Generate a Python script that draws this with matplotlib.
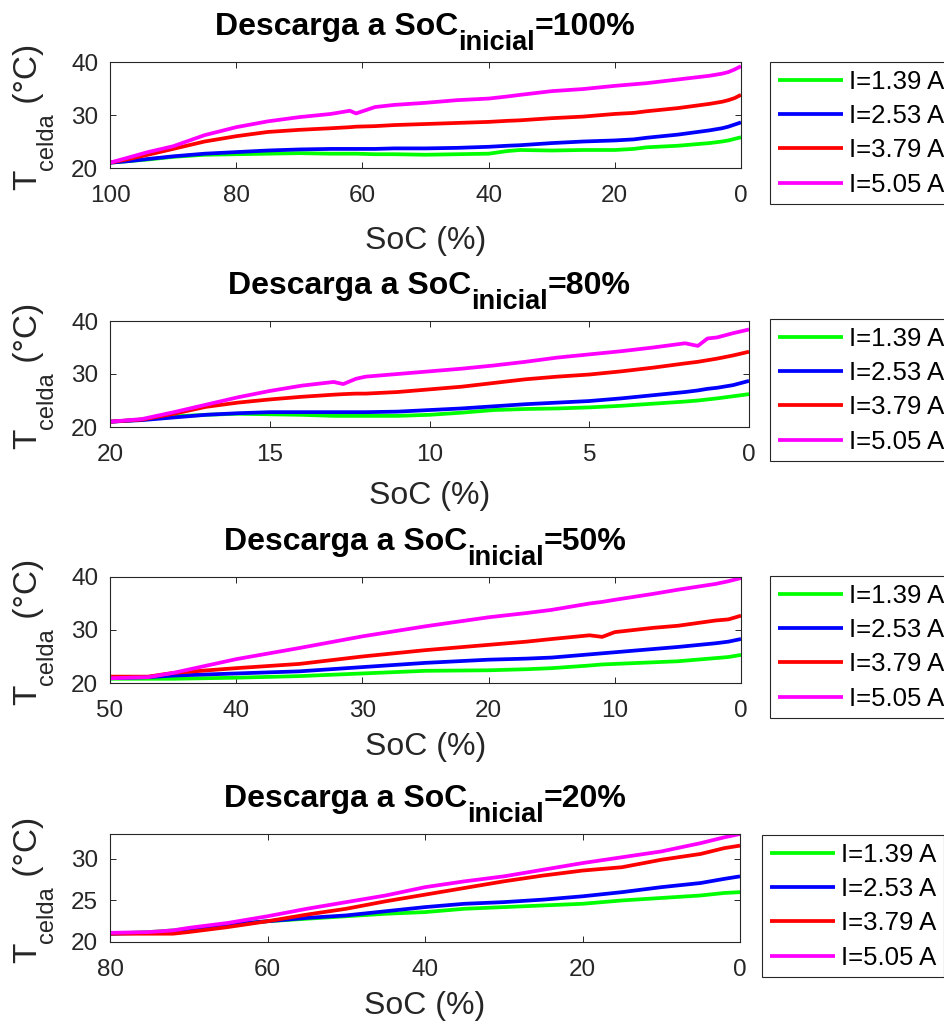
import matplotlib
matplotlib.use('Agg')
import matplotlib.pyplot as plt

plt.rcParams['font.family'] = ['Liberation Sans', 'DejaVu Sans']

# ---------------------------------------------------------------- data
current_labels = ['I=1.39 A', 'I=2.53 A', 'I=3.79 A', 'I=5.05 A']
line_colors = ['#00ff00', '#0000ff', '#ff0000', '#ff00ff']

# Discharge from SoC 100 %
soc_100 = [100, 97, 94, 90, 85, 80, 75, 70, 65, 62, 61, 58, 55, 50, 45, 40, 37, 35,
           30, 25, 20, 17, 15, 10, 5, 3, 2, 1, 0]
t100_i139 = [21.0, 21.3, 21.6, 22.1, 22.5, 22.6, 22.7, 22.8, 22.7, 22.7, 22.7, 22.6, 22.6,
             22.5, 22.6, 22.7, 23.2, 23.4, 23.3, 23.4, 23.4, 23.6, 23.9, 24.2, 24.7, 25.0,
             25.2, 25.5, 25.8]
t100_i253 = [21.0, 21.3, 21.7, 22.2, 22.7, 23.0, 23.3, 23.5, 23.6, 23.6, 23.6, 23.6, 23.7,
             23.7, 23.8, 24.0, 24.2, 24.3, 24.7, 25.0, 25.2, 25.4, 25.7, 26.3, 27.1, 27.5,
             27.8, 28.2, 28.6]
t100_i379 = [21.0, 21.7, 22.5, 23.6, 25.0, 26.0, 26.8, 27.2, 27.5, 27.7, 27.8, 27.9, 28.1,
             28.3, 28.5, 28.7, 28.9, 29.0, 29.4, 29.7, 30.2, 30.4, 30.7, 31.3, 32.1, 32.5,
             32.8, 33.2, 33.8]
t100_i505 = [21.0, 22.0, 23.0, 24.1, 26.2, 27.7, 28.8, 29.6, 30.2, 30.8, 30.3, 31.5, 31.9,
             32.3, 32.8, 33.1, 33.5, 33.8, 34.5, 34.9, 35.5, 35.8, 36.0, 36.7, 37.4, 37.8,
             38.1, 38.6, 39.2]

# Discharge from SoC 80 %
soc_80 = [20, 19, 18, 17, 16, 15, 14, 13, 12.7, 12.3, 12, 11, 10, 9, 8, 7, 6, 5, 4, 3, 2,
          1.6, 1.3, 1, 0.5, 0]
t80_i139 = [21.0, 21.4, 22.0, 22.3, 22.5, 22.4, 22.3, 22.1, 22.1, 22.1, 22.1, 22.1, 22.3,
            22.7, 23.2, 23.4, 23.5, 23.7, 24.0, 24.4, 24.8, 25.0, 25.2, 25.4, 25.8, 26.2]
t80_i253 = [21.0, 21.3, 21.8, 22.3, 22.6, 22.8, 22.8, 22.8, 22.8, 22.8, 22.8, 22.9, 23.2,
            23.5, 23.9, 24.3, 24.6, 24.9, 25.4, 26.0, 26.6, 26.9, 27.2, 27.4, 27.9, 28.7]
t80_i379 = [21.0, 21.4, 22.5, 23.8, 24.6, 25.2, 25.7, 26.1, 26.2, 26.3, 26.3, 26.6, 27.1,
            27.6, 28.3, 29.0, 29.5, 29.9, 30.5, 31.2, 32.0, 32.3, 32.6, 32.9, 33.5, 34.2]
t80_i505 = [21.0, 21.5, 22.8, 24.2, 25.6, 26.8, 27.8, 28.5, 28.1, 29.1, 29.5, 30.0, 30.5,
            31.0, 31.6, 32.3, 33.1, 33.7, 34.3, 35.0, 35.8, 35.3, 36.7, 36.9, 37.7, 38.4]

# Discharge from SoC 50 %
soc_50 = [50, 47, 45, 40, 35, 30, 25, 20, 17, 15, 12, 11, 10, 7, 5, 2, 1, 0]
t50_i139 = [20.8, 20.8, 20.8, 21.0, 21.3, 21.8, 22.3, 22.4, 22.6, 22.8, 23.3, 23.5, 23.6,
            23.9, 24.1, 24.7, 24.9, 25.3]
t50_i253 = [20.9, 21.1, 21.4, 21.8, 22.2, 23.0, 23.8, 24.4, 24.6, 24.8, 25.4, 25.6, 25.8,
            26.4, 26.8, 27.5, 27.8, 28.3]
t50_i379 = [21.2, 21.2, 21.9, 22.8, 23.6, 25.0, 26.2, 27.2, 27.8, 28.3, 29.0, 28.7, 29.6,
            30.4, 30.8, 31.8, 32.0, 32.7]
t50_i505 = [20.9, 21.1, 21.9, 24.5, 26.6, 28.8, 30.7, 32.4, 33.2, 33.8, 35.0, 35.3, 35.7,
            36.8, 37.6, 38.7, 39.2, 39.8]

# Discharge from SoC 20 %
soc_20 = [80, 75, 72, 70, 65, 60, 55, 50, 45, 40, 35, 30, 25, 20, 15, 10, 5, 2, 0]
t20_i139 = [21.0, 21.2, 21.4, 21.6, 22.1, 22.5, 22.8, 23.1, 23.4, 23.6, 24.0, 24.2, 24.4,
            24.6, 25.0, 25.3, 25.6, 25.9, 26.0]
t20_i253 = [21.0, 21.1, 21.3, 21.6, 22.1, 22.5, 22.9, 23.2, 23.7, 24.2, 24.6, 24.8, 25.1,
            25.5, 26.0, 26.6, 27.1, 27.6, 27.9]
t20_i379 = [21.0, 21.0, 21.0, 21.2, 21.8, 22.5, 23.3, 24.0, 24.9, 25.7, 26.5, 27.3, 28.0,
            28.6, 29.0, 29.9, 30.6, 31.3, 31.6]
t20_i505 = [21.1, 21.2, 21.4, 21.7, 22.3, 23.1, 24.0, 24.8, 25.6, 26.6, 27.3, 27.9, 28.7,
            29.5, 30.2, 30.9, 31.9, 32.6, 33.0]

initial_soc = ['100%', '80%', '50%', '20%']
xticks_list = [[100, 80, 60, 40, 20, 0], [20, 15, 10, 5, 0],
               [50, 40, 30, 20, 10, 0], [80, 60, 40, 20, 0]]
yticks_list = [[20, 30, 40], [20, 30, 40], [20, 30, 40], [20, 25, 30]]
ylims = [(20, 40), (20, 40), (20, 40), (20, 33)]

panels = [
    (soc_100, [t100_i139, t100_i253, t100_i379, t100_i505]),
    (soc_80, [t80_i139, t80_i253, t80_i379, t80_i505]),
    (soc_50, [t50_i139, t50_i253, t50_i379, t50_i505]),
    (soc_20, [t20_i139, t20_i253, t20_i379, t20_i505]),
]

# ---------------------------------------------------------------- layout (pixels)
W, H = 944, 1030
axes_px = [(110, 741, 62, 168), (110, 749, 321, 427),
           (110, 741, 577, 683), (110, 740, 834, 942)]
legend_px = [(770, 62), (770, 319), (770, 576), (762, 835)]
xlabel_gap = [58, 54, 49, 49]

frame_col = '#262626'

fig = plt.figure(figsize=(W / 100, H / 100), dpi=100)
renderer = fig.canvas.get_renderer()


def px(x, y):
    return x / W, 1 - y / H


def add_title(left, right, top, value):
    """Bold title with a large subscript, centred over the axes."""
    base_y = top - 27
    parts = [('Descarga a SoC', 23, 0), ('inicial', 19.5, -15), ('=' + value, 23, 0)]
    texts = []
    for s, size, dy in parts:
        t = fig.text(0, 0, s, fontsize=size, fontweight='bold', color='black',
                     ha='left', va='baseline')
        texts.append((t, dy))
    widths = [t.get_window_extent(renderer).width for t, _ in texts]
    x = (left + right) / 2 - sum(widths) / 2
    for (t, dy), w in zip(texts, widths):
        t.set_position(px(x, base_y - dy))
        x += w


def add_ylabel(top, bottom):
    """Vertical 'T_celda (°C)' label with a large subscript."""
    base_x = 36.5
    parts = [('T', 24, 0), ('celda', 17, 16), (' (°C)', 24, 0)]
    texts = []
    for s, size, dx in parts:
        t = fig.text(0, 0, s, fontsize=size, color=frame_col, rotation=90,
                     rotation_mode='anchor', ha='left', va='baseline')
        texts.append((t, dx))
    lengths = [t.get_window_extent(renderer).height for t, _ in texts]
    y = (top + bottom) / 2 + 2 + sum(lengths) / 2
    for (t, dx), h in zip(texts, lengths):
        t.set_position(px(base_x + dx, y))
        y -= h


for k, (soc, series) in enumerate(panels):
    l, r, t, b = axes_px[k]
    ax = fig.add_axes([l / W, 1 - b / H, (r - l) / W, (b - t) / H])
    for temps, col, lab in zip(series, line_colors, current_labels):
        ax.plot(soc, temps, color=col, lw=2.7, label=lab, solid_capstyle='butt')
    ax.set_xlim(max(xticks_list[k]), 0)
    ax.set_ylim(*ylims[k])
    ax.set_xticks(xticks_list[k])
    ax.set_yticks(yticks_list[k])
    for sp in ax.spines.values():
        sp.set_color(frame_col)
        sp.set_linewidth(0.8)
    ax.tick_params(axis='both', direction='in', length=4.5, width=0.7,
                   colors=frame_col, labelsize=17.5, top=True, right=True)
    ax.tick_params(axis='x', pad=12.5)
    ax.tick_params(axis='y', pad=8.5)

    ax.set_xlabel('SoC (%)', fontsize=23, color=frame_col)
    ax.xaxis.set_label_coords(0.5, -xlabel_gap[k] / (b - t))

    lx, ly = legend_px[k]
    leg = ax.legend(loc='upper left', bbox_to_anchor=px(lx, ly),
                    bbox_transform=fig.transFigure, borderaxespad=0,
                    fontsize=18.5, frameon=True, fancybox=False, framealpha=1,
                    edgecolor=frame_col, handlelength=2.55, handletextpad=0.24,
                    labelspacing=0.4, borderpad=0.3)
    leg.get_frame().set_linewidth(0.8)
    for txt in leg.get_texts():
        txt.set_color('black')

    add_title(l, r, t, initial_soc[k])
    add_ylabel(t, b)

fig.savefig('out.png', dpi=100)
